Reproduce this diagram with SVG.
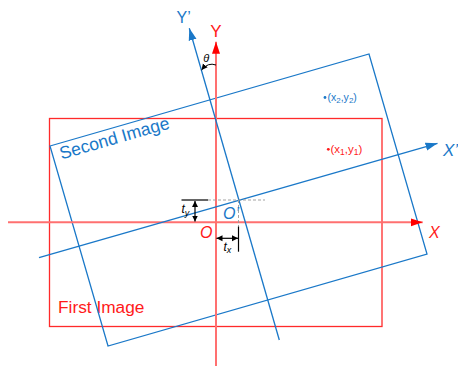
<svg xmlns="http://www.w3.org/2000/svg" width="458" height="366" viewBox="0 0 458 366">
<style>
text{font-family:"Liberation Sans",Arial,sans-serif}
.red{fill:#ff1a1a}
.blue{fill:#1a78c8}
.axisR{stroke:#ff7070;stroke-width:2;fill:none}
.lineB{stroke:#1a78c8;stroke-width:1.3;fill:none}
.blk{stroke:#000;stroke-width:1.2;fill:none}
.dash{stroke:#999;stroke-width:0.9;stroke-dasharray:3 2;fill:none}
.it{font-style:italic}
</style>
<defs>
<marker id="arrR" markerUnits="userSpaceOnUse" markerWidth="14" markerHeight="10" refX="12" refY="5" orient="auto"><path d="M0,1 L12,5 L0,9 Z" fill="#ff0000"/></marker>
<marker id="arrB" markerUnits="userSpaceOnUse" markerWidth="14" markerHeight="10" refX="12" refY="5" orient="auto"><path d="M0,1 L12,5 L0,9 Z" fill="#1a78c8"/></marker>
<marker id="arrK" markerUnits="userSpaceOnUse" markerWidth="7" markerHeight="7" refX="6" refY="3.5" orient="auto-start-reverse"><path d="M0,0.5 L6,3.5 L0,6.5 Z" fill="#000"/></marker>
</defs>
<g id="first-image">
<rect x="49.5" y="118.5" width="332.5" height="208" fill="none" stroke="#ff2a2a" stroke-width="1.3"/>
<text x="58" y="312.5" font-size="17.3" class="red">First Image</text>
</g>
<g id="second-image">
<polygon points="50,146 369,54 427,254 108,346" class="lineB"/>
<text x="61.5" y="159.5" font-size="17.6" class="blue" transform="rotate(-16 61.5 159.5)">Second Image</text>
</g>
<g id="connectors">
<line x1="8" y1="222.3" x2="422.7" y2="222.3" class="axisR" marker-end="url(#arrR)"/>
<line x1="216" y1="366" x2="216" y2="41.7" class="axisR" marker-end="url(#arrR)"/>
<line x1="39" y1="257.7" x2="437.5" y2="143.3" class="lineB" marker-end="url(#arrB)"/>
<line x1="279.3" y1="340" x2="189.3" y2="28.3" class="lineB" marker-end="url(#arrB)"/>
<path d="M216,65 Q208,62 201.5,70" stroke="#000" stroke-width="1" fill="none" marker-end="url(#arrK)"/>
<line x1="181.5" y1="200" x2="208" y2="200" class="blk"/>
<line x1="208" y1="200" x2="265" y2="200" class="dash"/>
<line x1="238.5" y1="200" x2="238.5" y2="226.5" class="dash"/>
<line x1="238.5" y1="226.5" x2="238.5" y2="251.7" class="blk"/>
<line x1="195" y1="201" x2="195" y2="221.5" class="blk" marker-start="url(#arrK)" marker-end="url(#arrK)"/>
<line x1="216.5" y1="238.3" x2="238" y2="238.3" class="blk" marker-start="url(#arrK)" marker-end="url(#arrK)"/>
</g>
<g id="labels">
<text x="216" y="36.7" font-size="17" text-anchor="middle" class="red">Y</text>
<text x="176.5" y="22.5" font-size="16" class="blue">Y’</text>
<text x="429" y="238" font-size="16" class="red it">X</text>
<text x="443" y="156" font-size="17" class="blue it">X’</text>
<text x="200" y="238.3" font-size="16" class="red it">O</text>
<text x="223" y="218.5" font-size="16" class="blue it">O’</text>
<text x="206.3" y="61.7" font-size="11" text-anchor="middle" class="it">θ</text>
<text x="181.5" y="212.5" font-size="12" class="it">t<tspan font-size="9" dy="3">y</tspan></text>
<text x="223.5" y="250.5" font-size="12" class="it">t<tspan font-size="9" dy="2.5">x</tspan></text>
</g>
<g id="point1">
<circle cx="328.3" cy="149.3" r="1.4" class="red"/>
<text x="330.5" y="153" font-size="11.5" class="red">(x<tspan font-size="8.5" dy="2">1</tspan><tspan dy="-2">,y</tspan><tspan font-size="8.5" dy="2">1</tspan><tspan dy="-2">)</tspan></text>
</g>
<g id="point2">
<circle cx="325" cy="97.5" r="1.4" class="blue"/>
<text x="327.5" y="101.3" font-size="10.5" class="blue">(x<tspan font-size="8" dy="2">2</tspan><tspan dy="-2">,y</tspan><tspan font-size="8" dy="2">2</tspan><tspan dy="-2">)</tspan></text>
</g>
</svg>
